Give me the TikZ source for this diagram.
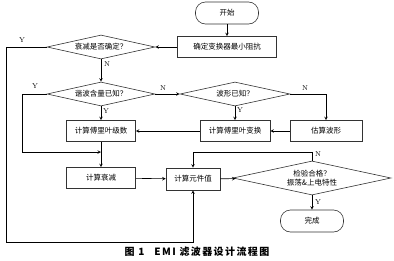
\documentclass[tikz,border=0pt]{standalone}
\usepackage{fontspec}
\newfontfamily\cjk{Noto Sans CJK SC}
\newfontfamily\capfont{Noto Sans CJK SC}[LetterSpace=14]
\usetikzlibrary{shapes.geometric}

\tikzset{
  term/.style={draw=black!80,rounded corners=10pt,minimum width=63pt,minimum height=22pt,inner sep=1pt},
  proc/.style={draw=black!80,minimum width=70pt,minimum height=21pt,inner sep=1pt},
  dec/.style={draw=black!80,diamond,aspect=4.5,inner sep=0pt,align=center},
  yn/.style={font=\normalfont\fontsize{7}{8}\selectfont,inner sep=1pt}
}

\begin{document}
\begin{tikzpicture}[x=1pt,y=-1pt,>=stealth,line width=0.6pt,font=\cjk\fontsize{7.5}{9}\selectfont]
  \useasboundingbox (0,0) rectangle (394,260);
  % top part
  \node[term] (start) at (227,13) {开始};
  \node[proc,minimum width=99pt] (minz) at (227,47) {确定变换器最小阻抗};
  \node[dec,minimum width=108pt,minimum height=24pt] (att) at (101,47) {衰减是否确定？};
  \node[dec,minimum width=108pt,minimum height=24pt] (harm) at (101,94) {谐波含量已知？};
  \node[dec,minimum width=110pt,minimum height=24pt] (wave) at (235,94) {波形已知？};
  % middle row
  \node[proc,minimum width=69pt] (fser) at (101,131) {计算傅里叶级数};
  \node[proc] (ftr) at (235,131) {计算傅里叶变换};
  \node[proc,minimum width=72pt] (est) at (326,131) {估算波形};
  % lower part
  \node[proc,minimum width=69pt] (att2) at (101,178) {计算衰减};
  \node[proc,minimum width=54pt,minimum height=22pt] (comp) at (193,179) {计算元件值};
  \node[dec,minimum width=158pt,minimum height=34pt] (chk) at (312,178) {检验合格？\\振荡\&上电特性};
  \node[term] (done) at (312,221) {完成};
  \coordinate (join) at (101,152);

  \draw[->] (start) -- (minz);
  \draw[->] (minz) -- (att);
  \draw[->] (att) -- (harm);
  \draw[->] (att.west) -- (6,47) -- (6,242) -| (comp.south);
  \draw[->] (harm.west) -- (22,94) |- (join);
  \draw[->] (harm) -- (wave);
  \draw[->] (harm) -- (fser);
  \draw[->] (wave) -- (ftr);
  \draw[->] (wave.east) -| (est.north);
  \draw[->] (est) -- (ftr);
  \draw[->] (ftr) -- (fser);
  \draw[->] (fser) -- (att2);
  \draw[->] (att2) -- (comp);
  \draw[->] (comp) -- (chk);
  \draw[->] (chk.north) -- (312,152) -| (comp.north);
  \draw[->] (chk) -- (done);

  \node[yn] at (22,40) {Y};
  \node[yn] at (107,64) {N};
  \node[yn] at (35,86) {Y};
  \node[yn] at (163,88) {N};
  \node[yn] at (106,111) {Y};
  \node[yn] at (240,110) {Y};
  \node[yn] at (305,88) {N};
  \node[yn] at (318,154) {N};
  \node[yn] at (318,202) {Y};

  \node[font=\capfont\bfseries\fontsize{10}{11}\selectfont] (cap) at (197,252) {图 1\quad EMI 滤波器设计流程图};
\end{tikzpicture}
\end{document}
